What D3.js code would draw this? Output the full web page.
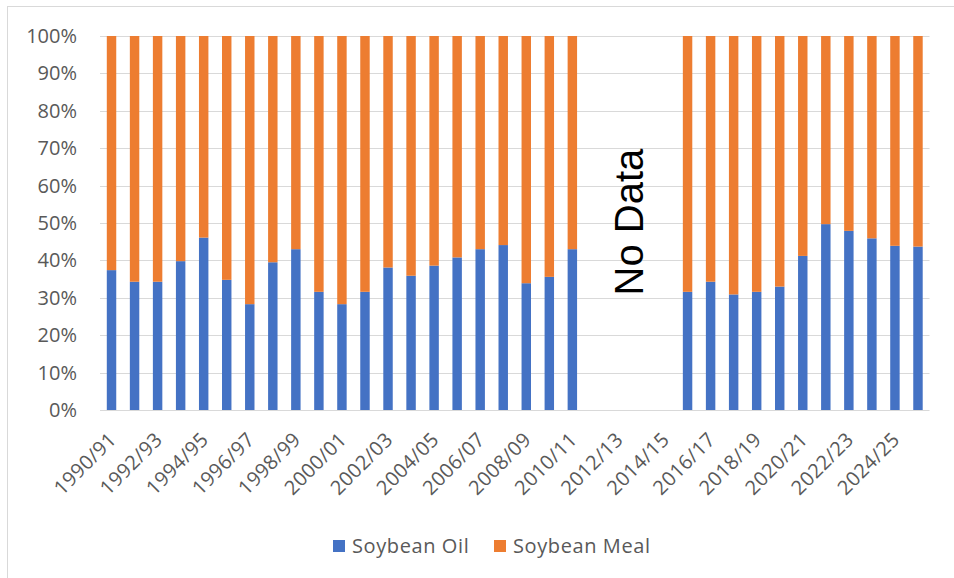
<!DOCTYPE html>
<html>
<head>
<meta charset="utf-8">
<script src="https://cdn.jsdelivr.net/npm/d3@7"></script>
<style>
  body { margin: 0; background: #fff; }
  svg { display: block; font-family: "Open Sans", "Liberation Sans", sans-serif; }
</style>
</head>
<body>
<div id="chart"></div>
<script>
  // marketing years 1990/91 .. 2025/26
  const years = d3.range(1990, 2026).map(y => y + '/' + String((y + 1) % 100).padStart(2, '0'));

  // soybean oil share of crush value (%), null = no data
  const oilShare = [
    37.4, 34.3, 34.3, 39.8, 46.1, 34.8, 28.3, 39.5, 43.0, 31.6,
    28.3, 31.6, 38.1, 35.9, 38.6, 40.8, 43.0, 44.1, 33.9, 35.6,
    43.0, null, null, null, null, 31.6, 34.3, 30.9, 31.6, 33.0,
    41.2, 49.7, 47.9, 45.9, 43.9, 43.7
  ];
  const mealShare = oilShare.map(v => v == null ? null : 100 - v);

  const yTicks = [0, 10, 20, 30, 40, 50, 60, 70, 80, 90, 100];
  const seriesNames = ['Soybean Oil', 'Soybean Meal'];
  const colors = { 'Soybean Oil': '#4472C4', 'Soybean Meal': '#ED7D31' };

  const W = 954, H = 578;
  const plot = { left: 100, right: 929.5, top: 36, bottom: 410 };

  const svg = d3.select('#chart').append('svg')
    .attr('width', W).attr('height', H);

  // chart frame (only left/top edge visible in the picture)
  svg.append('rect')
    .attr('x', 7.5).attr('y', 6.5)
    .attr('width', W + 10).attr('height', H + 10)
    .attr('fill', '#fff').attr('stroke', '#d9d9d9');

  const x = d3.scaleBand().domain(years).range([plot.left, plot.right]).paddingInner(0.59).paddingOuter(0.295);
  const y = d3.scaleLinear().domain([0, 100]).range([plot.bottom, plot.top]);

  // gridlines
  svg.append('g').selectAll('line')
    .data(yTicks)
    .join('line')
    .attr('x1', plot.left).attr('x2', plot.right)
    .attr('y1', d => Math.round(y(d)) + 0.5).attr('y2', d => Math.round(y(d)) + 0.5)
    .attr('stroke', '#d9d9d9').attr('stroke-width', 1);

  // y tick labels
  svg.append('g').selectAll('text')
    .data(yTicks)
    .join('text')
    .attr('x', 77).attr('y', d => y(d))
    .attr('dy', '0.35em')
    .attr('text-anchor', 'end')
    .attr('font-size', 20)
    .attr('fill', '#595959')
    .text(d => d + '%');

  // stacked bars
  const rows = years.map((yr, i) => ({ year: yr, 'Soybean Oil': oilShare[i], 'Soybean Meal': mealShare[i] }))
    .filter(r => r['Soybean Oil'] != null);
  const stack = d3.stack().keys(seriesNames)(rows);

  svg.append('g').selectAll('g')
    .data(stack)
    .join('g')
    .attr('fill', d => colors[d.key])
    .selectAll('rect')
    .data(d => d)
    .join('rect')
    .attr('x', d => x(d.data.year))
    .attr('width', x.bandwidth())
    .attr('y', d => y(d[1]))
    .attr('height', d => y(d[0]) - y(d[1]));

  // x tick labels, every other year
  svg.append('g').selectAll('text')
    .data(years.filter((d, i) => i % 2 === 0))
    .join('text')
    .attr('transform', d => `translate(${x(d) + x.bandwidth() / 2 + 1},${436}) rotate(-45)`)
    .attr('text-anchor', 'end')
    .attr('dy', '0.35em')
    .attr('font-size', 20)
    .attr('letter-spacing', 0.3)
    .attr('fill', '#595959')
    .text(d => d);

  // "No Data" annotation
  svg.append('text')
    .attr('transform', 'translate(643,222) rotate(-90)')
    .attr('text-anchor', 'middle')
    .attr('font-family', '"Liberation Sans", Arial, sans-serif')
    .attr('font-size', 40)
    .attr('fill', '#000')
    .text('No Data');

  // legend
  const legendItems = [
    { name: 'Soybean Oil', x: 333 },
    { name: 'Soybean Meal', x: 494 }
  ];
  const lg = svg.append('g').selectAll('g')
    .data(legendItems)
    .join('g')
    .attr('transform', d => `translate(${d.x},540)`);
  lg.append('rect')
    .attr('width', 12).attr('height', 12)
    .attr('fill', d => colors[d.name]);
  lg.append('text')
    .attr('x', 19).attr('y', 6)
    .attr('dy', '0.35em')
    .attr('font-size', 20)
    .attr('letter-spacing', 0.6)
    .attr('fill', '#595959')
    .text(d => d.name);
</script>
</body>
</html>
